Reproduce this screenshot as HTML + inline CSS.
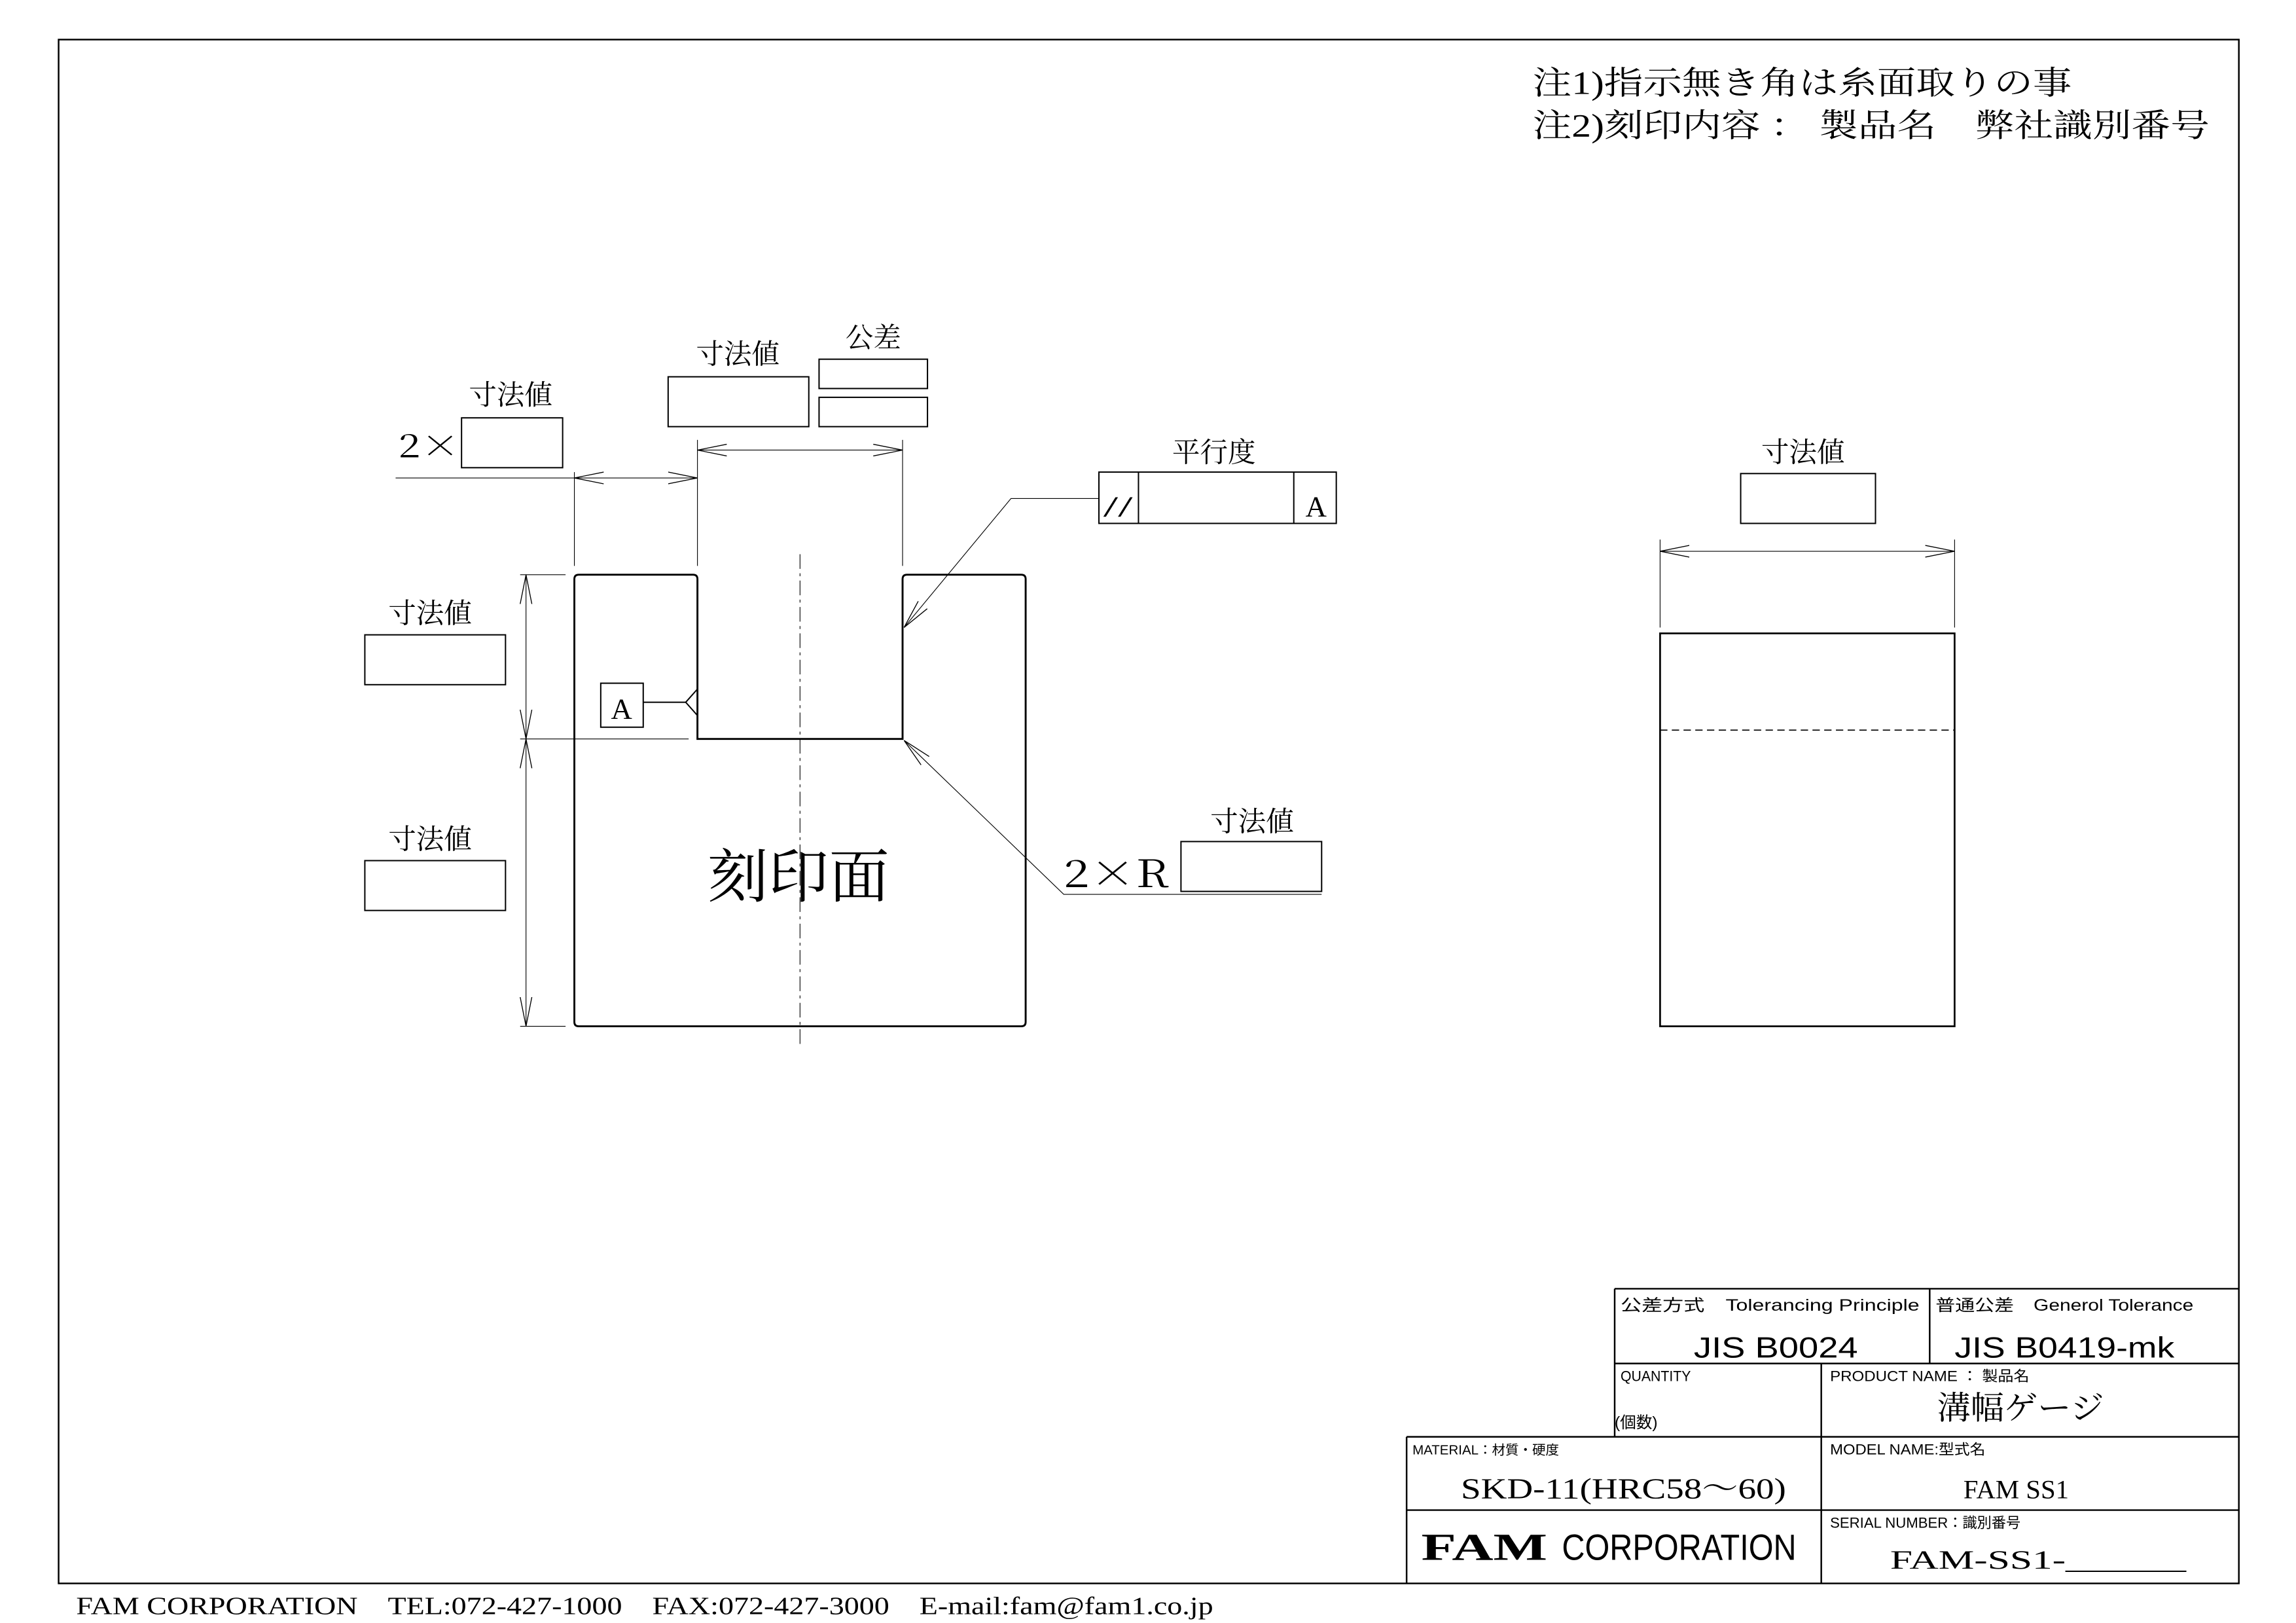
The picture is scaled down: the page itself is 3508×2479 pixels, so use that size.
<!DOCTYPE html>
<html><head><meta charset="utf-8"><style>
html,body{margin:0;padding:0;background:#fff;}
svg{display:block;}
text{font-family:"Liberation Serif","Noto Serif CJK SC",serif;fill:#000;}
.s{font-family:"Liberation Sans","Noto Sans CJK JP",sans-serif;}
.c{font-family:"Noto Serif CJK SC",serif;}
</style></head><body>
<svg width="3508" height="2479" viewBox="0 0 1567 1107" preserveAspectRatio="none" xmlns="http://www.w3.org/2000/svg">
<defs>
<marker id="a" viewBox="0 0 20 10" refX="20" refY="5" markerWidth="20" markerHeight="10" markerUnits="userSpaceOnUse" orient="auto-start-reverse">
<path d="M0,1 L20,5 L0,9" fill="none" stroke="#000" stroke-width="0.6"/>
</marker>
</defs>
<g fill="none" stroke="#000">
<rect x="40" y="27" width="1488" height="1053" stroke-width="1.1"/>
<path d="M476,395 V504 H616 V395 Q616,392 619,392 H697 Q700,392 700,395 V697 Q700,700 697,700 H395 Q392,700 392,697 V395 Q392,392 395,392 H473 Q476,392 476,395 Z" stroke-width="1.3"/>
<line x1="546" y1="378" x2="546" y2="712" stroke-width="0.5" stroke-dasharray="10,3,2,3"/>
<g stroke-width="0.5">
<line x1="392" y1="322" x2="392" y2="386"/>
<line x1="476" y1="300" x2="476" y2="386"/>
<line x1="616" y1="300" x2="616" y2="386"/>
<line x1="270" y1="326" x2="392" y2="326"/>
<line x1="392" y1="326" x2="476" y2="326" marker-start="url(#a)" marker-end="url(#a)"/>
<line x1="476" y1="307" x2="616" y2="307" marker-start="url(#a)" marker-end="url(#a)"/>
<line x1="355" y1="392" x2="386" y2="392"/>
<line x1="355" y1="504" x2="470" y2="504"/>
<line x1="355" y1="700" x2="386" y2="700"/>
<line x1="359" y1="392" x2="359" y2="504" marker-start="url(#a)" marker-end="url(#a)"/>
<line x1="359" y1="504" x2="359" y2="700" marker-start="url(#a)" marker-end="url(#a)"/>
<polyline points="750,340 690,340 617,428" marker-end="url(#a)"/>
<polyline points="902,610 726,610 617,505" marker-end="url(#a)"/>
<line x1="1133" y1="368" x2="1133" y2="428"/>
<line x1="1334" y1="368" x2="1334" y2="428"/>
<line x1="1133" y1="376" x2="1334" y2="376" marker-start="url(#a)" marker-end="url(#a)"/>
</g>
<g stroke-width="0.9">
<rect x="315" y="285" width="69" height="34"/>
<rect x="456" y="257" width="96" height="34"/>
<rect x="559" y="245" width="74" height="20"/>
<rect x="559" y="271" width="74" height="20"/>
<rect x="249" y="433" width="96" height="34"/>
<rect x="249" y="587" width="96" height="34"/>
<rect x="806" y="574" width="96" height="34"/>
<rect x="750" y="322" width="162" height="35"/>
<line x1="777" y1="322" x2="777" y2="357"/>
<line x1="883" y1="322" x2="883" y2="357"/>
<rect x="410" y="466" width="29" height="30"/>
<line x1="439" y1="479" x2="468" y2="479"/>
<path d="M476,470 L468,479 L476,488"/>
<rect x="1188" y="323" width="92" height="34"/>
<rect x="1133" y="432" width="201" height="268" stroke-width="1.2"/>
</g>
<line x1="1133" y1="498" x2="1334" y2="498" stroke-width="0.7" stroke-dasharray="5,3"/>
<g stroke-width="1.1">
<line x1="1102" y1="879" x2="1528" y2="879"/>
<line x1="1102" y1="879" x2="1102" y2="980"/>
<line x1="1102" y1="930" x2="1528" y2="930"/>
<line x1="1317" y1="879" x2="1317" y2="930"/>
<line x1="1243" y1="930" x2="1243" y2="1080"/>
<line x1="960" y1="980" x2="1528" y2="980"/>
<line x1="960" y1="980" x2="960" y2="1080"/>
<line x1="960" y1="1030" x2="1528" y2="1030"/>
</g>
</g>
<text x="1046" y="64" font-size="22" textLength="368" lengthAdjust="spacingAndGlyphs">注1)指示無き角は糸面取りの事</text>
<text x="1046" y="93" font-size="22" textLength="462" lengthAdjust="spacingAndGlyphs">注2)刻印内容 ： 製品名　弊社識別番号</text>
<text class="c" x="272" y="312" font-size="22" textLength="42" lengthAdjust="spacingAndGlyphs">2×</text>
<text x="320" y="276" font-size="19">寸法値</text>
<text x="475" y="248" font-size="19">寸法値</text>
<text x="577" y="237" font-size="19">公差</text>
<text x="265" y="425" font-size="19">寸法値</text>
<text x="265" y="579" font-size="19">寸法値</text>
<text x="826" y="567" font-size="19">寸法値</text>
<text x="800" y="315" font-size="19">平行度</text>
<text x="1202" y="315" font-size="19">寸法値</text>
<text x="753" y="352" font-size="20" textLength="20" lengthAdjust="spacingAndGlyphs">//</text>
<text x="891" y="352" font-size="20">A</text>
<text x="417" y="490" font-size="20">A</text>
<text class="c" x="726" y="605" font-size="26" textLength="72" lengthAdjust="spacingAndGlyphs">2×R</text>
<text x="483" y="612" font-size="40" textLength="124" lengthAdjust="spacingAndGlyphs">刻印面</text>
<text class="s" x="1106" y="894" font-size="11" textLength="204" lengthAdjust="spacingAndGlyphs">公差方式　Tolerancing Principle</text>
<text class="s" x="1321" y="894" font-size="11" textLength="176" lengthAdjust="spacingAndGlyphs">普通公差　Generol Tolerance</text>
<text class="s" x="1156" y="926" font-size="20" fill="#333" textLength="112" lengthAdjust="spacingAndGlyphs">JIS B0024</text>
<text class="s" x="1334" y="926" font-size="20" fill="#333" textLength="150" lengthAdjust="spacingAndGlyphs">JIS B0419-mk</text>
<text class="s" x="1106" y="942" font-size="10" textLength="48" lengthAdjust="spacingAndGlyphs">QUANTITY</text>
<text class="s" x="1102" y="974" font-size="11">(個数)</text>
<text class="s" x="1249" y="942" font-size="10" textLength="136" lengthAdjust="spacingAndGlyphs">PRODUCT NAME ： 製品名</text>
<text x="1322" y="968" font-size="22" textLength="114" lengthAdjust="spacingAndGlyphs">溝幅ゲージ</text>
<text class="s" x="964" y="992" font-size="9" textLength="100" lengthAdjust="spacingAndGlyphs">MATERIAL：材質・硬度</text>
<text x="997" y="1022" font-size="20" textLength="222" lengthAdjust="spacingAndGlyphs">SKD-11(HRC58～60)</text>
<text class="s" x="1249" y="992" font-size="10" textLength="106" lengthAdjust="spacingAndGlyphs">MODEL NAME:型式名</text>
<text x="1340" y="1022" font-size="18" textLength="72" lengthAdjust="spacingAndGlyphs">FAM SS1</text>
<text x="970" y="1064" font-size="26" font-weight="bold" textLength="86" lengthAdjust="spacingAndGlyphs">FAM</text>
<text class="s" x="1066" y="1064" font-size="25" textLength="160" lengthAdjust="spacingAndGlyphs">CORPORATION</text>
<text class="s" x="1249" y="1042" font-size="10" textLength="130" lengthAdjust="spacingAndGlyphs">SERIAL NUMBER：識別番号</text>
<text x="1290" y="1070" font-size="18" textLength="202" lengthAdjust="spacingAndGlyphs">FAM-SS1-______</text>
<text x="52" y="1101" font-size="17" textLength="776" lengthAdjust="spacingAndGlyphs">FAM CORPORATION　TEL:072-427-1000　FAX:072-427-3000　E-mail:fam@fam1.co.jp</text>
</svg>
</body></html>
